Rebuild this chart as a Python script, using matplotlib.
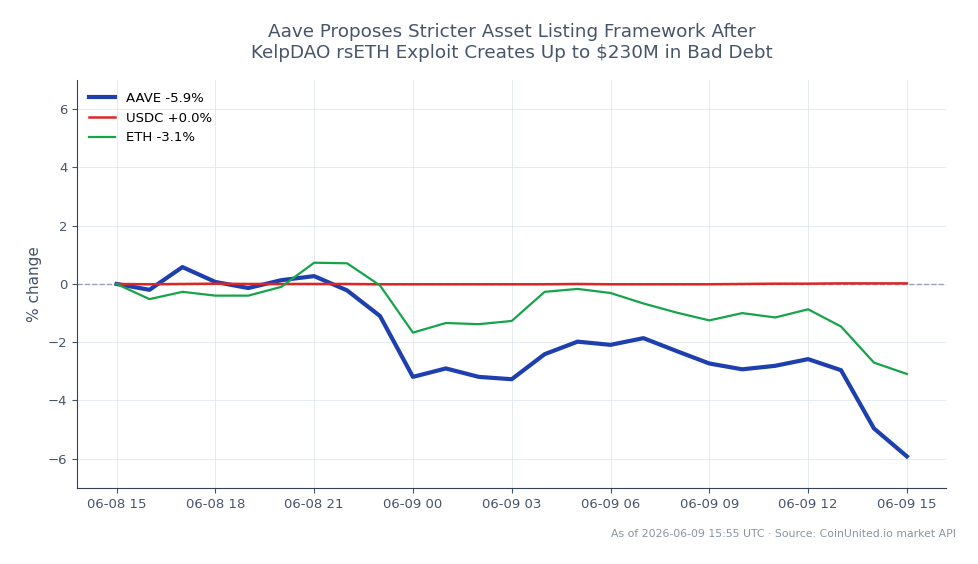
import matplotlib
matplotlib.use("Agg")
import matplotlib.pyplot as plt
import matplotlib.dates as mdates
import pandas as pd

times = pd.date_range("2026-06-08 15:00", "2026-06-09 15:00", freq="h")

aave = [0.0, -0.2, 0.58, 0.07, -0.14, 0.13, 0.27, -0.22, -1.1, -3.19,
        -2.9, -3.19, -3.27, -2.41, -1.98, -2.09, -1.86, -2.3, -2.73, -2.93,
        -2.81, -2.58, -2.96, -4.96, -5.92]
usdc = [0.0, -0.01, 0.0, 0.01, 0.0, 0.0, 0.0, 0.0, -0.01, -0.01,
        -0.01, -0.01, -0.01, -0.01, 0.0, -0.01, -0.01, -0.01, -0.01, 0.0,
        0.01, 0.01, 0.02, 0.02, 0.02]
eth = [0.0, -0.52, -0.27, -0.4, -0.4, -0.1, 0.73, 0.71, -0.05, -1.67,
       -1.34, -1.38, -1.27, -0.27, -0.17, -0.31, -0.67, -0.98, -1.25, -1.0,
       -1.15, -0.87, -1.46, -2.7, -3.09]

series = [
    ("AAVE", aave, "#1e40af", 3.0),
    ("USDC", usdc, "#dc2626", 1.8),
    ("ETH", eth, "#16a34a", 1.6),
]

txt = "#475569"

fig = plt.figure(figsize=(9.79, 5.64), dpi=100)
ax = fig.add_axes([0.0787, 0.135, 0.888, 0.723])

ax.axhline(0, color="#94a3b8", linestyle="--", linewidth=1, zorder=1)
for name, vals, col, lw in series:
    ax.plot(times, vals, color=col, linewidth=lw, label="{} {:+.1f}%".format(name, vals[-1]), zorder=3)

ax.set_ylim(-7, 7)
ax.set_yticks([-6, -4, -2, 0, 2, 4, 6])
ax.xaxis.set_major_locator(mdates.HourLocator(byhour=range(0, 24, 3)))
ax.xaxis.set_major_formatter(mdates.DateFormatter("%m-%d %H"))

ax.grid(True, color="#e2e8f0", linewidth=0.6)
ax.set_axisbelow(True)
for s in ["top", "right"]:
    ax.spines[s].set_visible(False)
for s in ["left", "bottom"]:
    ax.spines[s].set_color("#334155")
ax.tick_params(colors=txt, labelsize=9.5)
ax.set_ylabel("% change", color=txt, fontsize=11)

ax.legend(loc="upper left", frameon=False, fontsize=9.5)

ax.set_title("Aave Proposes Stricter Asset Listing Framework After\nKelpDAO rsETH Exploit Creates Up to $230M in Bad Debt",
             color=txt, fontsize=13.2, pad=16)
fig.text(0.976, 0.045, "As of 2026-06-09 15:55 UTC · Source: CoinUnited.io market API",
         ha="right", va="bottom", color="#8a94a3", fontsize=7.8)

fig.savefig("out.png", dpi=100)
